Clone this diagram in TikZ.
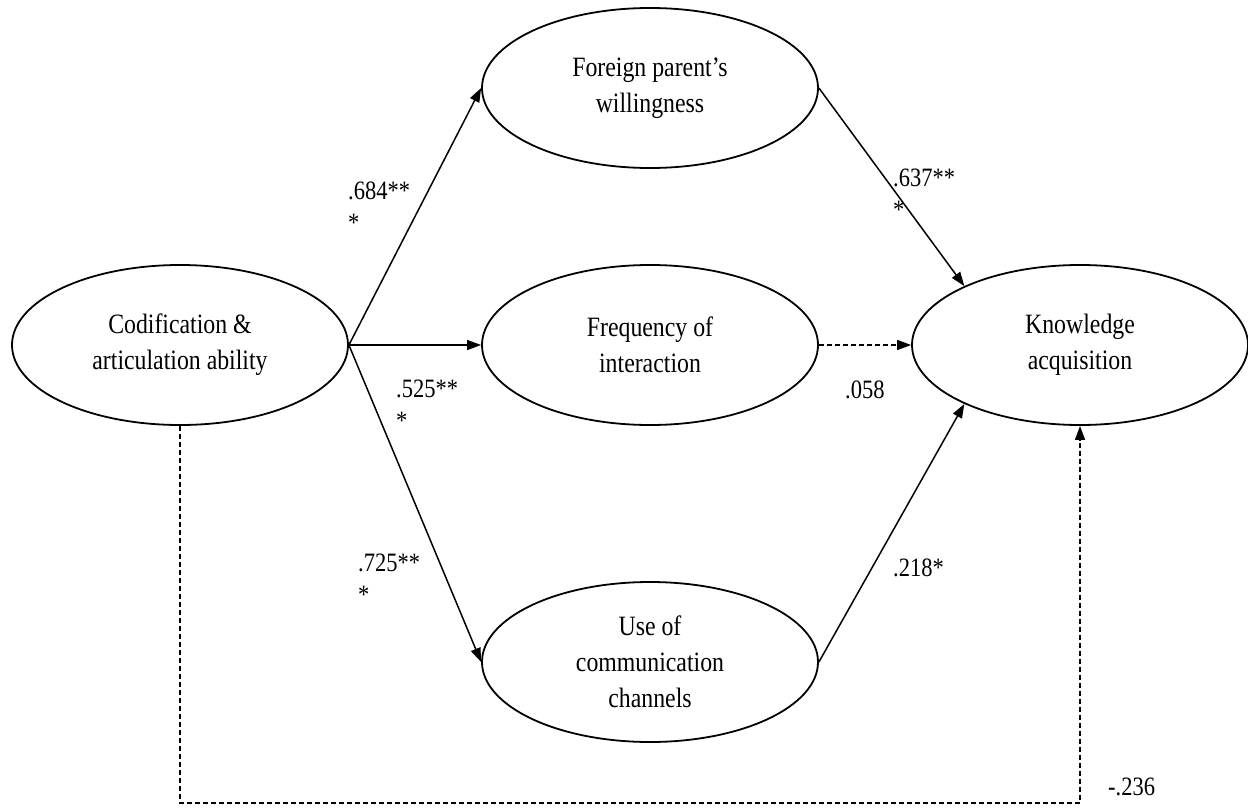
\documentclass[tikz,border=0pt]{standalone}
\usepackage{fontspec}
\setmainfont{Liberation Serif}[FakeStretch=0.85]
\usetikzlibrary{shapes.geometric,arrows.meta}
\tikzset{
  latent/.style={draw, line width=1.8pt, ellipse, minimum width=336pt, minimum height=160pt, inner sep=0pt, align=center, font=\fontsize{28}{36}\selectfont},
  arr/.style={line width=1.5pt, -{Triangle[length=14pt,width=10pt]}},
  darr/.style={arr, dash pattern=on 5pt off 3pt},
  coef/.style={anchor=west, align=left, inner sep=0pt, font=\fontsize{26.5}{32}\selectfont}
}
\begin{document}
\begin{tikzpicture}[x=1pt,y=-1pt]
\useasboundingbox (0,0) rectangle (1248,811);
\node[latent] (L) at (180,345) {Codification \&\\articulation ability};
\node[latent] (F) at (650,88) {Foreign parent’s\\willingness};
\node[latent] (Q) at (650,345) {Frequency of\\interaction};
\node[latent] (U) at (650,662) {Use of\\communication\\channels};
\node[latent] (K) at (1080,345) {Knowledge\\acquisition};
\coordinate (bot) at (630,803);

\draw[arr] (L.east) -- (F.west);
\draw[arr] (L.east) -- (Q.west);
\draw[arr] (L.east) -- (U.west);
\draw[arr] (F.east) -- (K.153);
\draw[darr] (Q.east) -- (K.west);
\draw[arr] (U.east) -- (K.207);
\draw[darr] (L.south) |- (bot) -| (K.south);

\node[coef] (c1) at (348,207) {.684**\\*};
\node[coef] (c2) at (396,405) {.525**\\*};
\node[coef] (c3) at (358,579) {.725**\\*};
\node[coef] (c4) at (893,194) {.637**\\*};
\node[coef] (c5) at (845,390) {.058};
\node[coef] (c6) at (893,568) {.218*};
\node[coef] (c7) at (1108,787) {-.236};
\end{tikzpicture}
\end{document}
